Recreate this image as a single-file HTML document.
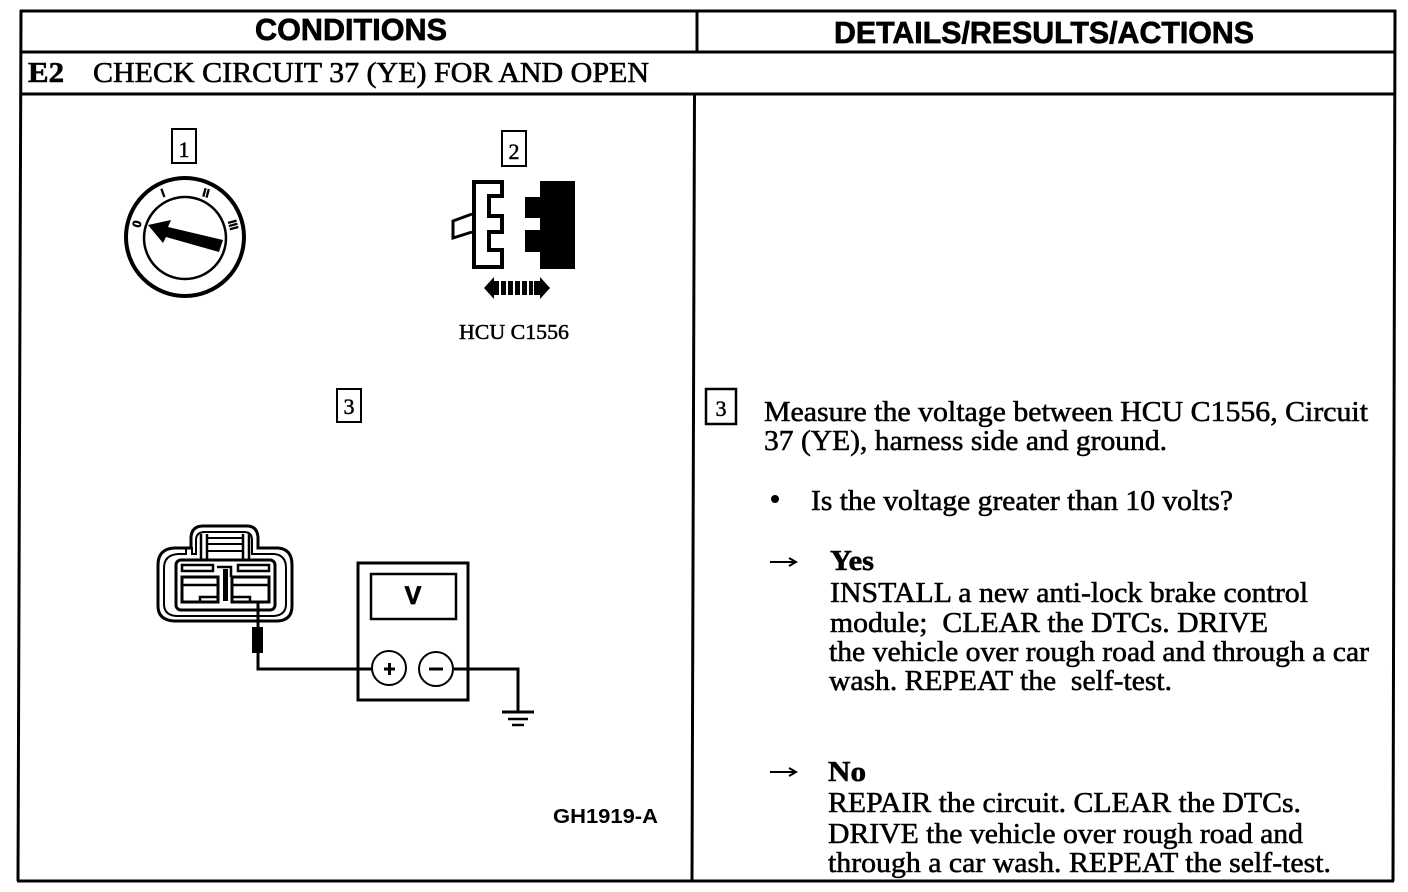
<!DOCTYPE html>
<html><head><meta charset="utf-8"><style>
html,body{margin:0;padding:0;background:#fff;width:1408px;height:892px;overflow:hidden}
svg{display:block}
.s{font-family:"Liberation Serif",serif;font-size:29px;fill:#000;stroke:#000;stroke-width:.6px}
.h{font-family:"Liberation Sans",sans-serif;font-size:31px;font-weight:bold;fill:#000;stroke:#000;stroke-width:.7px}
.b{font-family:"Liberation Serif",serif;font-size:22px;fill:#000;stroke:#000;stroke-width:.5px}
</style></head><body>
<svg width="1408" height="892" viewBox="0 0 1408 892" xmlns="http://www.w3.org/2000/svg">
<g fill="none" stroke="#000" stroke-width="3">
<path d="M21 10L18 881M1395 10L1393 881M20 11H1396M20 52H1395M20 94H1395M17 881H1394"/>
<path d="M697 11V52M694.5 94L692 881"/>
</g>
<text class="h" x="255" y="40" textLength="192" lengthAdjust="spacingAndGlyphs">CONDITIONS</text>
<text class="h" x="834" y="43" textLength="420" lengthAdjust="spacingAndGlyphs">DETAILS/RESULTS/ACTIONS</text>
<text class="s" x="28" y="82" font-weight="bold" textLength="36" lengthAdjust="spacingAndGlyphs">E2</text>
<text class="s" x="93" y="82" textLength="556" lengthAdjust="spacingAndGlyphs">CHECK CIRCUIT 37 (YE) FOR AND OPEN</text>

<!-- step boxes -->
<g fill="#fff" stroke="#000" stroke-width="2">
<rect x="172" y="129" width="24" height="34"/>
<rect x="502" y="131" width="24" height="35"/>
<rect x="337" y="389" width="24" height="33"/>
<rect x="706" y="389" width="30" height="35" stroke-width="2.5"/>
</g>
<text class="b" x="184" y="157" text-anchor="middle">1</text>
<text class="b" x="514" y="159" text-anchor="middle">2</text>
<text class="b" x="349" y="414" text-anchor="middle">3</text>
<text class="b" x="721" y="416" text-anchor="middle">3</text>

<!-- ignition -->
<circle cx="185" cy="237" r="59" fill="none" stroke="#000" stroke-width="4"/>
<circle cx="185" cy="238" r="41" fill="none" stroke="#000" stroke-width="2.5"/>
<path d="M148 225L171 220L168 227L223 240L219 252L166 237L163 243Z" fill="#000"/>
<g font-family="Liberation Sans,sans-serif" font-weight="bold" font-size="12" fill="#000" stroke="#000" stroke-width=".6" text-anchor="middle">
<text x="137" y="228" transform="rotate(-75 137 224)">0</text>
<text x="163" y="197" transform="rotate(-20 163 193)">I</text>
<text x="206" y="197" transform="rotate(15 206 193)">II</text>
<text x="233" y="229" transform="rotate(75 233 225)">III</text>
</g>

<!-- connector 2 -->
<path d="M474 182H502V196H489V216H502V232H489V250H502V267H474Z" fill="#fff" stroke="#000" stroke-width="4"/>
<path d="M472 214L453 221V238L472 232" fill="#fff" stroke="#000" stroke-width="3"/>
<path d="M540 181H575V269H540V252H525V230H540V218H525V197H540Z" fill="#000"/>
<g fill="#000">
<path d="M484 288L494 277V299Z"/><path d="M550 288L540 277V299Z"/>
<rect x="494" y="281" width="5" height="14"/><rect x="501" y="281" width="5" height="14"/><rect x="508" y="281" width="5" height="14"/><rect x="515" y="281" width="5" height="14"/><rect x="522" y="281" width="5" height="14"/><rect x="529" y="281" width="4" height="14"/><rect x="534" y="281" width="6" height="14"/>
</g>
<text x="459" y="339" font-family="Liberation Serif,serif" font-size="21" fill="#000" stroke="#000" stroke-width=".5" textLength="110" lengthAdjust="spacingAndGlyphs">HCU C1556</text>

<!-- harness connector -->
<g fill="none" stroke="#000">
<path d="M158 565Q158 549 174 548H191V537Q192 526 203 526H247Q257 526 258 537V548H278Q292 549 292 565V606Q292 620 278 621H174Q158 620 158 606Z" stroke-width="3"/>
<path d="M164 568Q164 555 178 554H186V548H192V554H196V540Q196 532 205 532H244Q252 532 252 540V554H274Q286 555 286 568V604Q286 615 274 616H176Q164 615 164 604Z" stroke-width="2"/>
<rect x="176" y="560" width="99" height="50" rx="5" stroke-width="3"/>
<rect x="182" y="565" width="31" height="6" stroke-width="2.5"/>
<rect x="238" y="565" width="31" height="6" stroke-width="2.5"/>
<path d="M182 577H218V602H182ZM232 577H269V602H232Z" stroke-width="3"/>
<path d="M182 585H218M232 585H269M200 602V597H218M232 597H250V602" stroke-width="2.5"/>
<path d="M217 567H231V577" stroke-width="2.5"/>
<path d="M201 534V559M207 534V559M243 534V559M249 534V559" stroke-width="2.5"/>
<path d="M207 538H243M207 544H243M207 551H243" stroke-width="2"/>
</g>
<rect x="223" y="569" width="5" height="32" fill="#000"/>
<rect x="252" y="627" width="11" height="26" fill="#000"/>
<path d="M258 602V628M258 652V669H358" fill="none" stroke="#000" stroke-width="3"/>

<!-- meter -->
<rect x="358" y="563" width="110" height="137" fill="#fff" stroke="#000" stroke-width="3"/>
<rect x="371" y="574" width="85" height="45" fill="none" stroke="#000" stroke-width="2.5"/>
<text x="413" y="604" font-family="Liberation Sans,sans-serif" font-weight="bold" font-size="25" text-anchor="middle" fill="#000" stroke="#000" stroke-width=".8">V</text>
<path d="M343 669H372M454 669H518V711" fill="none" stroke="#000" stroke-width="3"/>
<circle cx="389" cy="668" r="17" fill="#fff" stroke="#000" stroke-width="2"/>
<circle cx="436" cy="669" r="17" fill="#fff" stroke="#000" stroke-width="2"/>
<path d="M384 669H395M389.500 663V675M429 669H443" stroke="#000" stroke-width="3"/>
<path d="M502 712H534" stroke="#000" stroke-width="3"/><path d="M508 719H528" stroke="#000" stroke-width="2.5"/><path d="M512 725H524" stroke="#000" stroke-width="2.5"/>

<text x="553" y="823" font-family="Liberation Sans,sans-serif" font-weight="bold" font-size="20" fill="#000" textLength="105" lengthAdjust="spacingAndGlyphs">GH1919-A</text>

<!-- right text -->
<g font-family="Liberation Serif,serif" font-size="28" fill="#000" stroke="#000" stroke-width=".55">
<text x="764" y="421" textLength="604" lengthAdjust="spacingAndGlyphs">Measure the voltage between HCU C1556, Circuit</text>
<text x="764" y="450" textLength="403" lengthAdjust="spacingAndGlyphs">37 (YE), harness side and ground.</text>
<text x="811" y="510" textLength="422" lengthAdjust="spacingAndGlyphs">Is the voltage greater than 10 volts?</text>
<text x="830" y="570" font-weight="bold" textLength="44" lengthAdjust="spacingAndGlyphs">Yes</text>
<text x="830" y="602" textLength="478" lengthAdjust="spacingAndGlyphs">INSTALL a new anti-lock brake control</text>
<text x="830" y="632" textLength="438" lengthAdjust="spacingAndGlyphs">module;&#160; CLEAR the DTCs. DRIVE</text>
<text x="829" y="661" textLength="540" lengthAdjust="spacingAndGlyphs">the vehicle over rough road and through a car</text>
<text x="829" y="690" textLength="343" lengthAdjust="spacingAndGlyphs">wash. REPEAT the&#160; self-test.</text>
<text x="828" y="781" font-weight="bold" textLength="38" lengthAdjust="spacingAndGlyphs">No</text>
<text x="828" y="812" textLength="473" lengthAdjust="spacingAndGlyphs">REPAIR the circuit. CLEAR the DTCs.</text>
<text x="828" y="843" textLength="475" lengthAdjust="spacingAndGlyphs">DRIVE the vehicle over rough road and</text>
<text x="828" y="872" textLength="503" lengthAdjust="spacingAndGlyphs">through a car wash. REPEAT the self-test.</text>
</g>
<circle cx="775" cy="499" r="4" fill="#000"/>
<g fill="none" stroke="#000" stroke-width="2">
<path d="M770 562H794M789 558L796 562L789 566"/>
<path d="M770 772H794M789 768L796 772L789 776"/>
</g>
</svg>
</body></html>
